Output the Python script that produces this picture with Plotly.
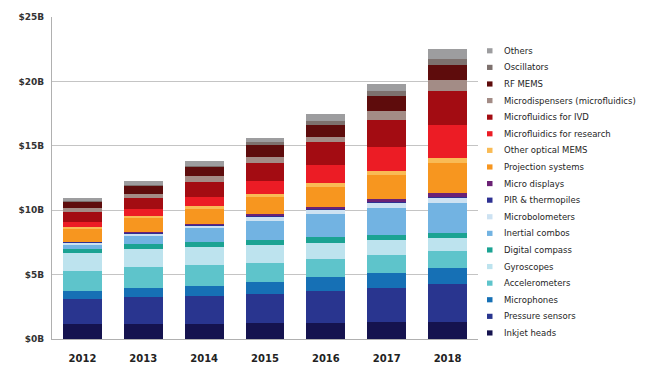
import plotly.graph_objects as go

years = ["2012", "2013", "2014", "2015", "2016", "2017", "2018"]

# Series in stacking order (bottom to top), values in $B
inkjet_heads      = [1.18, 1.18, 1.16, 1.23, 1.26, 1.29, 1.34]
pressure_sensors  = [1.93, 2.06, 2.16, 2.26, 2.47, 2.70, 2.96]
microphones       = [0.64, 0.75, 0.82, 0.95, 1.08, 1.13, 1.21]
accelerometers    = [1.54, 1.57, 1.57, 1.49, 1.41, 1.41, 1.31]
gyroscopes        = [1.39, 1.41, 1.41, 1.34, 1.23, 1.16, 1.03]
digital_compass   = [0.31, 0.39, 0.44, 0.44, 0.44, 0.39, 0.36]
inertial_combos   = [0.33, 0.64, 1.03, 1.44, 1.80, 2.06, 2.34]
microbolometers   = [0.13, 0.18, 0.17, 0.30, 0.30, 0.40, 0.39]
pir_thermopiles   = [0.05, 0.06, 0.06, 0.09, 0.09, 0.11, 0.12]
micro_displays    = [0.07, 0.07, 0.10, 0.13, 0.18, 0.21, 0.26]
projection        = [0.98, 1.11, 1.19, 1.34, 1.54, 1.85, 2.37]
other_optical     = [0.13, 0.13, 0.18, 0.26, 0.33, 0.33, 0.33]
mf_research       = [0.39, 0.51, 0.77, 0.98, 1.41, 1.88, 2.62]
mf_ivd            = [0.77, 0.90, 1.16, 1.41, 1.72, 2.11, 2.62]
microdispensers   = [0.31, 0.33, 0.41, 0.49, 0.46, 0.69, 0.82]
rf_mems           = [0.46, 0.59, 0.72, 0.93, 0.87, 1.11, 1.18]
oscillators       = [0.10, 0.10, 0.12, 0.20, 0.33, 0.39, 0.51]
others            = [0.23, 0.28, 0.32, 0.30, 0.55, 0.57, 0.77]

series = [
    ("Inkjet heads", inkjet_heads, "#15134f"),
    ("Pressure sensors", pressure_sensors, "#29358f"),
    ("Microphones", microphones, "#1670b5"),
    ("Accelerometers", accelerometers, "#5ec4cb"),
    ("Gyroscopes", gyroscopes, "#bde3ee"),
    ("Digital compass", digital_compass, "#1ba393"),
    ("Inertial combos", inertial_combos, "#72b3e2"),
    ("Microbolometers", microbolometers, "#cde2f2"),
    ("PIR & thermopiles", pir_thermopiles, "#2e3192"),
    ("Micro displays", micro_displays, "#6b2275"),
    ("Projection systems", projection, "#f7961f"),
    ("Other optical MEMS", other_optical, "#f9bb55"),
    ("Microfluidics for research", mf_research, "#ec1c25"),
    ("Microfluidics for IVD", mf_ivd, "#a30c12"),
    ("Microdispensers (microfluidics)", microdispensers, "#a38c86"),
    ("RF MEMS", rf_mems, "#5e0c0c"),
    ("Oscillators", oscillators, "#7d716e"),
    ("Others", others, "#9d9d9f"),
]

W, H = 658, 387
ML, MR, MT, MB = 52, 180, 15, 48
PW, PH = W - ML - MR, H - MT - MB

fig = go.Figure()
for name, vals, color in series:
    fig.add_trace(go.Bar(x=years, y=vals, name=name, marker_color=color,
                         marker_line_width=0, showlegend=False))

# Legend drawn as a list: top entry = last series
annotations = []
shapes = []
row0, step = 49.0, 16.7
for i, (name, vals, color) in enumerate(reversed(series)):
    ypx = row0 + step * i
    yp = (H - MB - ypx) / PH
    sq = 2.6 / PH
    x0 = (487 - ML) / PW
    x1 = (492.5 - ML) / PW
    shapes.append(dict(type="rect", xref="paper", yref="paper",
                       x0=x0, x1=x1, y0=yp - sq, y1=yp + sq,
                       fillcolor=color, line=dict(width=0)))
    annotations.append(dict(text=name, xref="paper", yref="paper",
                            x=(502 - ML) / PW, y=yp, xanchor="left", yanchor="middle",
                            showarrow=False,
                            font=dict(family="DejaVu Sans", size=8.5, color="#1e1e1e")))

fig.update_layout(
    barmode="stack",
    bargap=0.36,
    width=W, height=H,
    margin=dict(l=ML, r=MR, t=MT, b=MB),
    paper_bgcolor="white", plot_bgcolor="white",
    font=dict(family="DejaVu Sans", size=9, color="#333333"),
    showlegend=False,
    annotations=annotations,
    shapes=shapes,
)
fig.update_xaxes(showline=True, linecolor="#b0b0b0", linewidth=1,
                 tickfont=dict(family="DejaVu Sans", size=10, color="#222222", weight="bold"),
                 ticks="outside", ticklen=10, tickcolor="rgba(0,0,0,0)")
fig.update_yaxes(range=[0, 25], dtick=5, tickprefix="$", ticksuffix="B",
                 showgrid=True, gridcolor="#c4c4c4", gridwidth=1,
                 showline=True, linecolor="#b0b0b0", linewidth=1,
                 zeroline=False,
                 tickfont=dict(family="DejaVu Sans", size=9, color="#333333", weight="bold"),
                 ticks="outside", ticklen=5, tickcolor="rgba(0,0,0,0)")

fig.write_html("out.html",
               config={"displayModeBar": False, "staticPlot": True},
               post_script="document.body.style.margin='0';document.body.style.overflow='hidden';")
